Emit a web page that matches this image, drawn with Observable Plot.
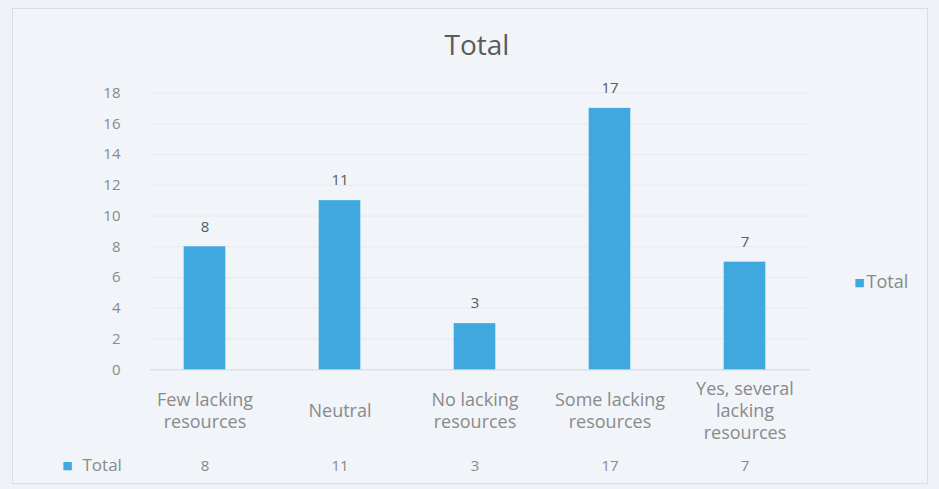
<!DOCTYPE html>
<html>
<head>
<meta charset="utf-8">
<script src="https://cdn.jsdelivr.net/npm/d3@7"></script>
<script src="https://cdn.jsdelivr.net/npm/@observablehq/plot@0.6"></script>
<style>
  html, body { margin: 0; padding: 0; background: #eef1f5; }
  #wrap { position: relative; width: 939px; height: 489px; overflow: hidden; }
  #border { position: absolute; left: 12px; top: 8px; width: 916px; height: 476px; border: 1px solid #d9dee5; box-sizing: border-box; background: #f1f4f8; }
  #chart { position: absolute; left: 0; top: 0; }
</style>
</head>
<body>
<div id="wrap"><div id="border"></div><div id="chart"></div></div>
<script>
const categories = ["Few lacking resources", "Neutral", "No lacking resources", "Some lacking resources", "Yes, several lacking resources"];
const categoryLabels = ["Few lacking\nresources", "Neutral", "No lacking\nresources", "Some lacking\nresources", "Yes, several\nlacking\nresources"];
const totals = [8, 11, 3, 17, 7];
const yTicks = [0, 2, 4, 6, 8, 10, 12, 14, 16, 18];
const seriesName = "Total";
const titleText = "Total";

const data = categories.map((c, i) => ({category: c, label: categoryLabels[i], value: totals[i]}));
const barColor = "#3ea8df";
const font = "'Open Sans', 'DejaVu Sans', sans-serif";

const chart = Plot.plot({
  width: 939,
  height: 489,
  marginLeft: 136,
  marginRight: 126,
  marginTop: 92.5,
  marginBottom: 119.7,
  style: {fontFamily: font, background: "transparent", color: "#808080", overflow: "visible"},
  x: {domain: categories, padding: 0, axis: null},
  y: {domain: [0, 18], axis: null},
  marks: [
    Plot.ruleY(yTicks, {stroke: "#e6eaef", strokeWidth: 1, insetLeft: 14, insetRight: 3}),
    Plot.ruleY([0], {stroke: "#d3d9df", strokeWidth: 1, insetLeft: 14, insetRight: 3}),
    Plot.axisY({ticks: yTicks, tickSize: 0, tickPadding: 16, fontSize: 15, label: null, fill: "#8a8a8a"}),
    Plot.barY(data, {x: "category", y: "value", fill: barColor, insetLeft: 46.7, insetRight: 46.7}),
    Plot.text(data, {x: "category", y: "value", text: d => String(d.value), dy: -20, lineAnchor: "middle", fontSize: 15, fill: "#5a5a5a", fontWeight: "500"}),
    Plot.text(data, {x: "category", text: "label", frameAnchor: "bottom", dy: 40, lineAnchor: "middle", lineHeight: 1.25, fontSize: 18, fill: "#8a8a8a"}),
    Plot.text(data, {x: "category", text: d => String(d.value), frameAnchor: "bottom", dy: 96, lineAnchor: "middle", fontSize: 15, fill: "#8a8a8a"}),
    Plot.text([titleText], {frameAnchor: "top", dy: -47, dx: 2, lineAnchor: "middle", fontSize: 28, fill: "#5a5a5a"}),
    Plot.text(["■"], {frameAnchor: "bottom-left", dx: -69, dy: 96, lineAnchor: "middle", textAnchor: "middle", fontSize: 11, fill: barColor}),
    Plot.text([seriesName], {frameAnchor: "bottom-left", dx: -54, dy: 96, lineAnchor: "middle", textAnchor: "start", fontSize: 17, fill: "#8a8a8a"}),
    Plot.text(["■"], {frameAnchor: "right", dx: 46, dy: 51, lineAnchor: "middle", textAnchor: "middle", fontSize: 11, fill: barColor}),
    Plot.text([seriesName], {frameAnchor: "right", dx: 53, dy: 51, lineAnchor: "middle", textAnchor: "start", fontSize: 18, fill: "#8a8a8a"})
  ]
});
document.getElementById("chart").appendChild(chart);
</script>
</body>
</html>
